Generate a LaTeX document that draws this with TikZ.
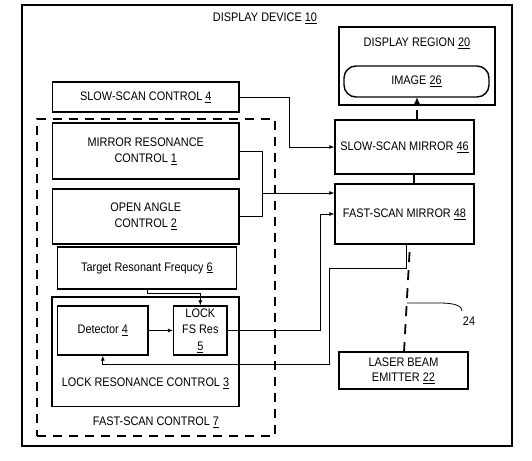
\documentclass[tikz,border=0pt]{standalone}
\usepackage{fontspec}
\setmainfont{Liberation Sans}[FakeStretch=0.88]
\usetikzlibrary{arrows.meta}
\begin{document}
\begin{tikzpicture}[x=1pt,y=-1pt,
  font=\fontsize{12.4}{16}\selectfont,
  box/.style={draw,line width=1.4pt,inner sep=0pt,align=center},
  conn/.style={line width=0.8pt},
  arr/.style={-{Latex[length=5pt,width=4pt]}},
  dashbox/.style={draw,line width=1.6pt,dash pattern=on 9pt off 7pt,inner sep=0pt},
  beam/.style={line width=1.8pt,dash pattern=on 10pt off 8pt},
  lbl/.style={inner sep=0pt,align=center}]
\useasboundingbox (0,0) rectangle (532,460);
% outer
\node[box,minimum width=490pt,minimum height=441pt] (outer) at (267,225.5) {};
\node[lbl] (title) at (265,18) {DISPLAY DEVICE \underline{10}};
% display region
\node[box,minimum width=156pt,minimum height=78pt] (dispreg) at (417,66) {};
\node[lbl] (disptitle) at (417,43) {DISPLAY REGION \underline{20}};
\node[box,rounded corners=12pt,minimum width=145pt,minimum height=31pt] (image) at (416.5,81.5) {IMAGE \underline{26}};
% left controls
\node[box,minimum width=186.5pt,minimum height=30pt] (slowctl) at (145.75,97) {SLOW-SCAN CONTROL \underline{4}};
\node[dashbox,minimum width=238pt,minimum height=317pt] (fastctl) at (156,277.5) {};
\node[lbl] (fastlbl) at (156,422) {FAST-SCAN CONTROL \underline{7}};
\node[box,minimum width=186.5pt,minimum height=56pt] (mrc) at (145.75,151) {MIRROR RESONANCE\\CONTROL \underline{1}};
\node[box,minimum width=186.5pt,minimum height=55pt] (oac) at (145.75,216.5) {OPEN ANGLE\\CONTROL \underline{2}};
\node[box,minimum width=179pt,minimum height=42pt] (trf) at (147,268) {Target Resonant Frequcy \underline{6}};
\node[box,minimum width=187pt,minimum height=109.5pt] (lrc) at (145.5,351.75) {};
\node[lbl] (lrclbl) at (145.5,383) {LOCK RESONANCE CONTROL \underline{3}};
\node[box,minimum width=90.4pt,minimum height=49pt] (det) at (102.8,330.5) {Detector \underline{4}};
\node[box,minimum width=53.4pt,minimum height=49pt,font=\fontsize{12.4}{16.5}\selectfont] (lock) at (200.3,330.5) {LOCK\\FS Res\\\underline{5}};
% right side
\node[box,minimum width=139pt,minimum height=54pt] (ssm) at (404.5,147) {SLOW-SCAN MIRROR \underline{46}};
\node[box,minimum width=139pt,minimum height=60pt] (fsm) at (404.5,214) {FAST-SCAN MIRROR \underline{48}};
\node[box,minimum width=129pt,minimum height=37pt,font=\fontsize{12.4}{15}\selectfont] (laser) at (403.5,370.5) {LASER BEAM\\EMITTER \underline{22}};
% connectors
\coordinate (j1) at (289,97);
\draw[conn,arr] (slowctl.east) -- (j1) |- (ssm.west);
\coordinate (j2) at (262,151);
\draw[conn] (mrc.east) -- (j2) |- (oac.east);
\coordinate (j3) at (262,193);
\draw[conn,arr] (j3) -- (j3 -| fsm.west);
\coordinate (j4) at (320,330.5);
\draw[conn,arr] (lock.east) -- (j4) |- (fsm.west);
\coordinate (j5) at (147,293);
\draw[conn,arr] (trf.south) -- (j5) -| (lock.north);
\draw[conn,arr] (det.east) -- (lock.west);
\coordinate (f0) at (406,244);
\coordinate (f1) at (406,268);
\coordinate (f2) at (329.5,364);
\draw[conn,arr] (f0) -- (f1) -| (f2) -| (det.south);
% beam
\coordinate (b1) at (404,352);
\coordinate (b2) at (410,244);
\draw[beam] (b1) -- (b2);
\coordinate (b3) at (414,174);
\coordinate (b4) at (414,184);
\draw[beam] (b3) -- (b4);
\coordinate (b5) at (417,120);
\coordinate (b6) at (417,97);
\draw[beam,-{Latex[length=7pt,width=6pt]}] (b5) -- (b6);
% leader 24
\coordinate (l0) at (407,303);
\coordinate (l1) at (462,311);
\draw[conn] (l0) -- (440,303) .. controls (455,303) and (462,306) .. (l1);
\node[lbl] (n24) at (469,321) {24};
\end{tikzpicture}
\end{document}
